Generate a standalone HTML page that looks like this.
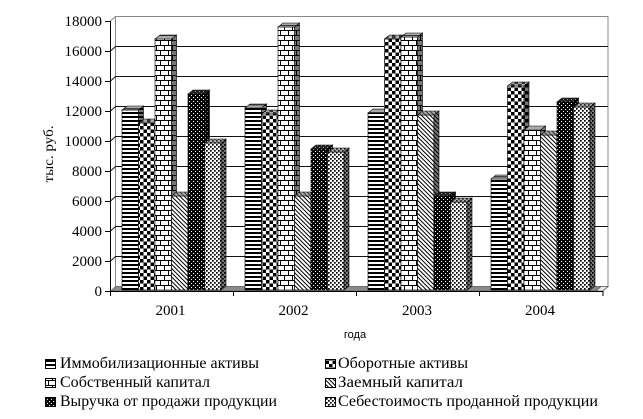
<!DOCTYPE html>
<html><head><meta charset="utf-8"><style>
html,body{margin:0;padding:0;background:#fff;}
svg{display:block;}
text{font-family:"Liberation Serif","Noto Serif CJK SC",serif;fill:#000;}
</style></head><body>
<svg width="643" height="419" viewBox="0 0 643 419" xmlns="http://www.w3.org/2000/svg">
<defs>
<!-- front patterns -->
<pattern id="p1" patternUnits="userSpaceOnUse" width="4" height="4"><rect width="4" height="4" fill="#fff"/><rect width="4" height="2" fill="#000"/></pattern>
<pattern id="p2" patternUnits="userSpaceOnUse" width="7" height="7"><rect width="7" height="7" fill="#fff"/><rect width="3.5" height="3.5" fill="#000"/><rect x="3.5" y="3.5" width="3.5" height="3.5" fill="#000"/></pattern>
<pattern id="p3" patternUnits="userSpaceOnUse" width="8" height="10"><rect width="8" height="10" fill="#fff"/><rect width="8" height="1" fill="#000"/><rect y="5" width="8" height="1" fill="#000"/><rect width="1" height="5" fill="#000"/><rect x="4" y="5" width="1" height="5" fill="#000"/></pattern>
<pattern id="p4" patternUnits="userSpaceOnUse" width="3" height="3" patternTransform="rotate(-45)"><rect width="3" height="3" fill="#fff"/><rect width="1" height="3" fill="#000"/></pattern>
<pattern id="p5" patternUnits="userSpaceOnUse" width="4" height="4"><rect width="4" height="4" fill="#000"/><rect x="1" y="1" width="1.1" height="1.1" fill="#fff"/><rect x="3" y="3" width="1.1" height="1.1" fill="#fff"/></pattern>
<pattern id="p6" patternUnits="userSpaceOnUse" width="4" height="4"><rect width="4" height="4" fill="#fff"/><rect width="1.7" height="1.7" fill="#000"/><rect x="2" y="2" width="1.7" height="1.7" fill="#000"/></pattern>
<!-- side patterns -->
<pattern id="s1" patternUnits="userSpaceOnUse" width="4" height="4"><rect width="4" height="4" fill="#777"/><rect width="4" height="2" fill="#000"/></pattern>
<pattern id="s2" patternUnits="userSpaceOnUse" width="7" height="7"><rect width="7" height="7" fill="#777"/><rect width="3.5" height="3.5" fill="#000"/><rect x="3.5" y="3.5" width="3.5" height="3.5" fill="#000"/></pattern>
<pattern id="s3" patternUnits="userSpaceOnUse" width="8" height="10"><rect width="8" height="10" fill="#777"/><rect width="8" height="1" fill="#000"/><rect y="5" width="8" height="1" fill="#000"/><rect width="1" height="5" fill="#000"/><rect x="4" y="5" width="1" height="5" fill="#000"/></pattern>
<pattern id="s4" patternUnits="userSpaceOnUse" width="3" height="3" patternTransform="rotate(-45)"><rect width="3" height="3" fill="#777"/><rect width="1" height="3" fill="#000"/></pattern>
<pattern id="s5" patternUnits="userSpaceOnUse" width="4" height="4"><rect width="4" height="4" fill="#000"/><rect x="1" y="1" width="1.1" height="1.1" fill="#777"/><rect x="3" y="3" width="1.1" height="1.1" fill="#777"/></pattern>
<pattern id="s6" patternUnits="userSpaceOnUse" width="4" height="4"><rect width="4" height="4" fill="#777"/><rect width="1.7" height="1.7" fill="#000"/><rect x="2" y="2" width="1.7" height="1.7" fill="#000"/></pattern>
<!-- top patterns -->
<pattern id="t1" patternUnits="userSpaceOnUse" width="4" height="4"><rect width="4" height="4" fill="#aaa"/><rect width="4" height="1.5" fill="#444"/></pattern>
<pattern id="t2" patternUnits="userSpaceOnUse" width="7" height="7"><rect width="7" height="7" fill="#aaa"/><rect width="3.5" height="3.5" fill="#333"/><rect x="3.5" y="3.5" width="3.5" height="3.5" fill="#333"/></pattern>
<pattern id="t3" patternUnits="userSpaceOnUse" width="8" height="10"><rect width="8" height="10" fill="#aaa"/><rect width="8" height="1" fill="#333"/><rect y="5" width="8" height="1" fill="#333"/></pattern>
<pattern id="t4" patternUnits="userSpaceOnUse" width="3" height="3" patternTransform="rotate(-45)"><rect width="3" height="3" fill="#aaa"/><rect width="1" height="3" fill="#333"/></pattern>
<pattern id="t5" patternUnits="userSpaceOnUse" width="4" height="4"><rect width="4" height="4" fill="#222"/><rect x="1" y="1" width="1.1" height="1.1" fill="#999"/><rect x="3" y="3" width="1.1" height="1.1" fill="#999"/></pattern>
<pattern id="t6" patternUnits="userSpaceOnUse" width="4" height="4"><rect width="4" height="4" fill="#aaa"/><rect width="1.7" height="1.7" fill="#222"/><rect x="2" y="2" width="1.7" height="1.7" fill="#222"/></pattern>
</defs>

<rect width="643" height="419" fill="#fff"/>

<!-- back wall -->
<rect x="115.5" y="16.5" width="492.5" height="270" fill="#fff" stroke="#888" stroke-width="1"/>
<line x1="110.5" y1="21" x2="115.5" y2="16.5" stroke="#888" stroke-width="1"/>
<!-- gridlines -->
<g stroke="#111" stroke-width="1" fill="none">
<polyline points="110.5,51 115.5,46.5 608,46.5"/>
<polyline points="110.5,81 115.5,76.5 608,76.5"/>
<polyline points="110.5,111 115.5,106.5 608,106.5"/>
<polyline points="110.5,141 115.5,136.5 608,136.5"/>
<polyline points="110.5,171 115.5,166.5 608,166.5"/>
<polyline points="110.5,201 115.5,196.5 608,196.5"/>
<polyline points="110.5,231 115.5,226.5 608,226.5"/>
<polyline points="110.5,261 115.5,256.5 608,256.5"/>
</g>
<!-- floor -->
<polygon points="110.5,291 115.5,286.5 608,286.5 603,291" fill="#8a8a8a" stroke="#555" stroke-width="0.6"/>
<polygon points="596,291 601,286.5 608,286.5 603,291" fill="#e8e8e8" stroke="#444" stroke-width="0.6"/>

<!-- bars -->
<g stroke="#000" stroke-width="0.6">
<!-- 2001 -->
<rect x="122" y="110" width="16.5" height="180" fill="url(#p1)"/>
<polygon points="138.5,110 143.5,106 143.5,286 138.5,290" fill="url(#s1)"/>
<polygon points="122,110 127,106 143.5,106 138.5,110" fill="url(#t1)"/>
<rect x="138.5" y="123" width="16.5" height="167" fill="url(#p2)"/>
<polygon points="155,123 160,119 160,286 155,290" fill="url(#s2)"/>
<polygon points="138.5,123 143.5,119 160,119 155,123" fill="url(#t2)"/>
<rect x="155" y="39" width="16.5" height="251" fill="url(#p3)"/>
<polygon points="171.5,39 176.5,35 176.5,286 171.5,290" fill="url(#s3)"/>
<polygon points="155,39 160,35 176.5,35 171.5,39" fill="url(#t3)"/>
<rect x="171.5" y="196" width="16.5" height="94" fill="url(#p4)"/>
<polygon points="188,196 193,192 193,286 188,290" fill="url(#s4)"/>
<polygon points="171.5,196 176.5,192 193,192 188,196" fill="url(#t4)"/>
<rect x="188" y="94" width="16.5" height="196" fill="url(#p5)"/>
<polygon points="204.5,94 209.5,90 209.5,286 204.5,290" fill="url(#s5)"/>
<polygon points="188,94 193,90 209.5,90 204.5,94" fill="url(#t5)"/>
<rect x="204.5" y="143" width="16.5" height="147" fill="url(#p6)"/>
<polygon points="221,143 226,139 226,286 221,290" fill="url(#s6)"/>
<polygon points="204.5,143 209.5,139 226,139 221,143" fill="url(#t6)"/>
<!-- 2002 -->
<rect x="245" y="108" width="16.5" height="182" fill="url(#p1)"/>
<polygon points="261.5,108 266.5,104 266.5,286 261.5,290" fill="url(#s1)"/>
<polygon points="245,108 250,104 266.5,104 261.5,108" fill="url(#t1)"/>
<rect x="261.5" y="114" width="16.5" height="176" fill="url(#p2)"/>
<polygon points="278,114 283,110 283,286 278,290" fill="url(#s2)"/>
<polygon points="261.5,114 266.5,110 283,110 278,114" fill="url(#t2)"/>
<rect x="278" y="27" width="16.5" height="263" fill="url(#p3)"/>
<polygon points="294.5,27 299.5,23 299.5,286 294.5,290" fill="url(#s3)"/>
<polygon points="278,27 283,23 299.5,23 294.5,27" fill="url(#t3)"/>
<rect x="294.5" y="196" width="16.5" height="94" fill="url(#p4)"/>
<polygon points="311,196 316,192 316,286 311,290" fill="url(#s4)"/>
<polygon points="294.5,196 299.5,192 316,192 311,196" fill="url(#t4)"/>
<rect x="311" y="149" width="16.5" height="141" fill="url(#p5)"/>
<polygon points="327.5,149 332.5,145 332.5,286 327.5,290" fill="url(#s5)"/>
<polygon points="311,149 316,145 332.5,145 327.5,149" fill="url(#t5)"/>
<rect x="327.5" y="152" width="16.5" height="138" fill="url(#p6)"/>
<polygon points="344,152 349,148 349,286 344,290" fill="url(#s6)"/>
<polygon points="327.5,152 332.5,148 349,148 344,152" fill="url(#t6)"/>
<!-- 2003 -->
<rect x="368" y="113" width="16.5" height="177" fill="url(#p1)"/>
<polygon points="384.5,113 389.5,109 389.5,286 384.5,290" fill="url(#s1)"/>
<polygon points="368,113 373,109 389.5,109 384.5,113" fill="url(#t1)"/>
<rect x="384.5" y="39" width="16.5" height="251" fill="url(#p2)"/>
<polygon points="401,39 406,35 406,286 401,290" fill="url(#s2)"/>
<polygon points="384.5,39 389.5,35 406,35 401,39" fill="url(#t2)"/>
<rect x="401" y="37" width="16.5" height="253" fill="url(#p3)"/>
<polygon points="417.5,37 422.5,33 422.5,286 417.5,290" fill="url(#s3)"/>
<polygon points="401,37 406,33 422.5,33 417.5,37" fill="url(#t3)"/>
<rect x="417.5" y="115" width="16.5" height="175" fill="url(#p4)"/>
<polygon points="434,115 439,111 439,286 434,290" fill="url(#s4)"/>
<polygon points="417.5,115 422.5,111 439,111 434,115" fill="url(#t4)"/>
<rect x="434" y="196" width="16.5" height="94" fill="url(#p5)"/>
<polygon points="450.5,196 455.5,192 455.5,286 450.5,290" fill="url(#s5)"/>
<polygon points="434,196 439,192 455.5,192 450.5,196" fill="url(#t5)"/>
<rect x="450.5" y="202" width="16.5" height="88" fill="url(#p6)"/>
<polygon points="467,202 472,198 472,286 467,290" fill="url(#s6)"/>
<polygon points="450.5,202 455.5,198 472,198 467,202" fill="url(#t6)"/>
<!-- 2004 -->
<rect x="491" y="179" width="16.5" height="111" fill="url(#p1)"/>
<polygon points="507.5,179 512.5,175 512.5,286 507.5,290" fill="url(#s1)"/>
<polygon points="491,179 496,175 512.5,175 507.5,179" fill="url(#t1)"/>
<rect x="507.5" y="86" width="16.5" height="204" fill="url(#p2)"/>
<polygon points="524,86 529,82 529,286 524,290" fill="url(#s2)"/>
<polygon points="507.5,86 512.5,82 529,82 524,86" fill="url(#t2)"/>
<rect x="524" y="130" width="16.5" height="160" fill="url(#p3)"/>
<polygon points="540.5,130 545.5,126 545.5,286 540.5,290" fill="url(#s3)"/>
<polygon points="524,130 529,126 545.5,126 540.5,130" fill="url(#t3)"/>
<rect x="540.5" y="135" width="16.5" height="155" fill="url(#p4)"/>
<polygon points="557,135 562,131 562,286 557,290" fill="url(#s4)"/>
<polygon points="540.5,135 545.5,131 562,131 557,135" fill="url(#t4)"/>
<rect x="557" y="102" width="16.5" height="188" fill="url(#p5)"/>
<polygon points="573.5,102 578.5,98 578.5,286 573.5,290" fill="url(#s5)"/>
<polygon points="557,102 562,98 578.5,98 573.5,102" fill="url(#t5)"/>
<rect x="573.5" y="107" width="16.5" height="183" fill="url(#p6)"/>
<polygon points="590,107 595,103 595,286 590,290" fill="url(#s6)"/>
<polygon points="573.5,107 578.5,103 595,103 590,107" fill="url(#t6)"/>
</g>

<!-- axes -->
<g stroke="#000" stroke-width="1">
<line x1="110.5" y1="21" x2="110.5" y2="291.5"/>
<line x1="110" y1="291.5" x2="603.5" y2="291.5"/>
<line x1="105" y1="21.5" x2="110.5" y2="21.5"/>
<line x1="105" y1="51.5" x2="110.5" y2="51.5"/>
<line x1="105" y1="81.5" x2="110.5" y2="81.5"/>
<line x1="105" y1="111.5" x2="110.5" y2="111.5"/>
<line x1="105" y1="141.5" x2="110.5" y2="141.5"/>
<line x1="105" y1="171.5" x2="110.5" y2="171.5"/>
<line x1="105" y1="201.5" x2="110.5" y2="201.5"/>
<line x1="105" y1="231.5" x2="110.5" y2="231.5"/>
<line x1="105" y1="261.5" x2="110.5" y2="261.5"/>
<line x1="105" y1="291.5" x2="110.5" y2="291.5"/>
<line x1="110.5" y1="291" x2="110.5" y2="296"/>
<line x1="233.5" y1="291" x2="233.5" y2="296"/>
<line x1="356.5" y1="291" x2="356.5" y2="296"/>
<line x1="479.5" y1="291" x2="479.5" y2="296"/>
<line x1="603" y1="291" x2="603" y2="296"/>
</g>

<!-- y labels -->
<g font-size="15" text-anchor="end">
<text x="102" y="26">18000</text>
<text x="102" y="56">16000</text>
<text x="102" y="86">14000</text>
<text x="102" y="116">12000</text>
<text x="102" y="146">10000</text>
<text x="102" y="176">8000</text>
<text x="102" y="206">6000</text>
<text x="102" y="236">4000</text>
<text x="102" y="266">2000</text>
<text x="102" y="296">0</text>
</g>
<!-- x labels -->
<g font-size="15" text-anchor="middle">
<text x="170.5" y="315">2001</text>
<text x="293.5" y="315">2002</text>
<text x="417" y="315">2003</text>
<text x="540" y="315">2004</text>
</g>
<text x="355" y="338" font-size="11" text-anchor="middle" style="font-family:'Liberation Sans',sans-serif">года</text>
<text transform="translate(53,154) rotate(-90)" font-size="14" text-anchor="middle" textLength="57" lengthAdjust="spacingAndGlyphs">тыс. руб.</text>

<!-- legend -->
<g stroke="#000" stroke-width="1">
<rect x="45.5" y="359.5" width="10" height="9" fill="url(#p1)"/>
<rect x="45.5" y="378.5" width="10" height="9" fill="url(#p3)"/>
<rect x="45.5" y="397.5" width="10" height="9" fill="url(#p5)"/>
<rect x="325.5" y="359.5" width="10" height="9" fill="url(#p2)"/>
<rect x="325.5" y="378.5" width="10" height="9" fill="url(#p4)"/>
<rect x="325.5" y="397.5" width="10" height="9" fill="url(#p6)"/>
</g>
<g font-size="15.5">
<text x="60" y="368" textLength="199" lengthAdjust="spacingAndGlyphs">Иммобилизационные активы</text>
<text x="60" y="387" textLength="150" lengthAdjust="spacingAndGlyphs">Собственный капитал</text>
<text x="60" y="406" textLength="217" lengthAdjust="spacingAndGlyphs">Выручка от продажи продукции</text>
<text x="338" y="368" textLength="130" lengthAdjust="spacingAndGlyphs">Оборотные активы</text>
<text x="338" y="387" textLength="125" lengthAdjust="spacingAndGlyphs">Заемный капитал</text>
<text x="338" y="406" textLength="260" lengthAdjust="spacingAndGlyphs">Себестоимость проданной продукции</text>
</g>
</svg>
</body></html>
